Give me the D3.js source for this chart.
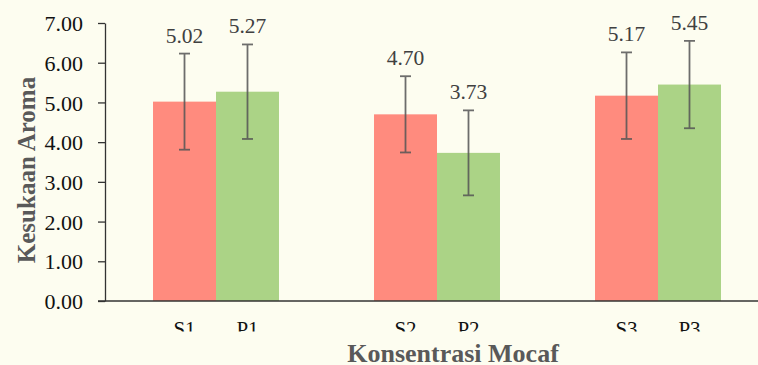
<!DOCTYPE html>
<html>
<head>
<meta charset="utf-8">
<script src="https://cdn.jsdelivr.net/npm/d3@7/dist/d3.min.js"></script>
<style>
  html, body { margin: 0; padding: 0; background: #fdfdf0; }
  svg { display: block; }
</style>
</head>
<body>
<svg id="chart" width="758" height="365"></svg>
<script>
// Aroma preference scores per mocaf concentration
const groups = ["1", "2", "3"];
const series = ["S", "P"];
const labelsS = ["S1", "S2", "S3"];
const labelsP = ["P1", "P2", "P3"];
const valuesS = [5.02, 4.70, 5.17];
const valuesP = [5.27, 3.73, 5.45];
const errorS = [1.21, 0.96, 1.09];
const errorP = [1.19, 1.07, 1.10];
const yTicks = [0, 1, 2, 3, 4, 5, 6, 7];

const colors = { S: "#ff8b7e", P: "#abd386" };

const rows = [];
groups.forEach((g, i) => {
  rows.push({ group: g, key: "S", label: labelsS[i], value: valuesS[i], err: errorS[i] });
  rows.push({ group: g, key: "P", label: labelsP[i], value: valuesP[i], err: errorP[i] });
});

const svg = d3.select("#chart");
const serif = "Liberation Serif, Times New Roman, serif";

const x0 = d3.scaleBand().domain(groups).range([105.5, 768.5])
  .paddingInner(0.43).paddingOuter(0.215);
const x1 = d3.scaleBand().domain(series).range([0, x0.bandwidth()]);
const y = d3.scaleLinear().domain([0, 7]).range([301, 23]);

// bars
svg.append("g").selectAll("rect").data(rows).join("rect")
  .attr("x", d => x0(d.group) + x1(d.key))
  .attr("y", d => y(d.value))
  .attr("width", x1.bandwidth())
  .attr("height", d => y(0) - y(d.value))
  .attr("fill", d => colors[d.key]);

// error bars
const eb = svg.append("g").attr("stroke", "#555").attr("stroke-width", 1.8).attr("opacity", 0.85);
rows.forEach(d => {
  const cx = x0(d.group) + x1(d.key) + x1.bandwidth() / 2;
  const top = y(d.value + d.err), bot = y(d.value - d.err);
  eb.append("line").attr("x1", cx).attr("x2", cx).attr("y1", top).attr("y2", bot);
  eb.append("line").attr("x1", cx - 5.5).attr("x2", cx + 5.5).attr("y1", top).attr("y2", top);
  eb.append("line").attr("x1", cx - 5.5).attr("x2", cx + 5.5).attr("y1", bot).attr("y2", bot);
});

// value labels
svg.append("g").selectAll("text").data(rows).join("text")
  .attr("x", d => x0(d.group) + x1(d.key) + x1.bandwidth() / 2)
  .attr("y", d => y(d.value + d.err) - 11)
  .attr("text-anchor", "middle")
  .attr("font-family", serif).attr("font-size", 21.5)
  .attr("fill", "#404040")
  .text(d => d.value.toFixed(2));

// y axis
const yAxis = svg.append("g").attr("transform", "translate(105,0)")
  .call(d3.axisLeft(y).tickValues(yTicks).tickFormat(d3.format(".2f")).tickSize(7).tickSizeOuter(0));
yAxis.select(".domain").attr("stroke", "#333").attr("stroke-width", 1.3);
yAxis.selectAll(".tick line").attr("stroke", "#333").attr("stroke-width", 1.3);
yAxis.selectAll(".tick text").attr("x", -22).attr("dy", "0.35em")
  .attr("font-family", serif).attr("font-size", 22).attr("fill", "#111");

// x axis line
svg.append("line").attr("x1", 98).attr("x2", 758).attr("y1", y(0)).attr("y2", y(0))
  .attr("stroke", "#333").attr("stroke-width", 1.3);

// category labels, cut off below
svg.append("defs").append("clipPath").attr("id", "catclip")
  .append("rect").attr("x", 0).attr("y", 0).attr("width", 758).attr("height", 331.5);
svg.append("g").attr("clip-path", "url(#catclip)")
  .selectAll("text").data(rows).join("text")
  .attr("x", d => x0(d.group) + x1(d.key) + x1.bandwidth() / 2)
  .attr("y", 335.5)
  .attr("text-anchor", "middle")
  .attr("font-family", serif).attr("font-size", 21).attr("fill", "#111")
  .text(d => d.label);

// axis titles
svg.append("text").attr("x", 453).attr("y", 362).attr("text-anchor", "middle")
  .attr("font-family", serif).attr("font-size", 26).attr("font-weight", "bold")
  .attr("fill", "#595959").text("Konsentrasi Mocaf");

svg.append("text").attr("transform", "translate(35,170) rotate(-90)")
  .attr("text-anchor", "middle")
  .attr("font-family", serif).attr("font-size", 25).attr("font-weight", "bold")
  .attr("fill", "#595959").text("Kesukaan Aroma");
</script>
</body>
</html>
